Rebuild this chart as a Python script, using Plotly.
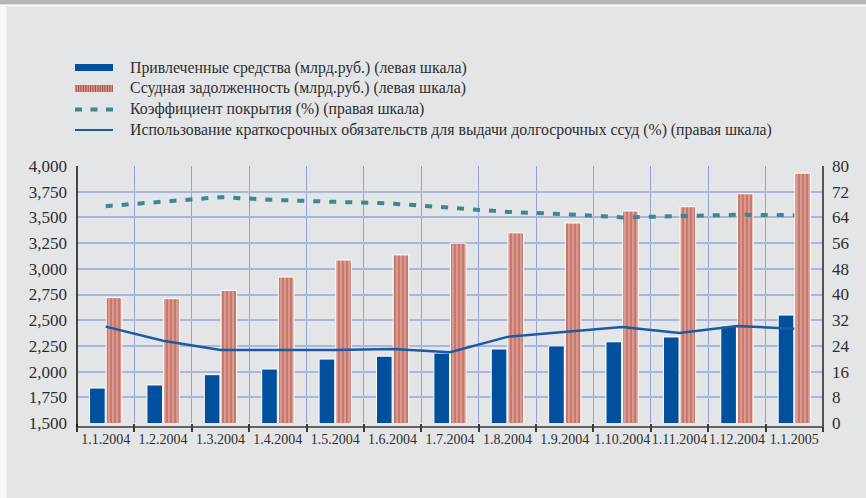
import plotly.graph_objects as go

dates = ["1.1.2004", "1.2.2004", "1.3.2004", "1.4.2004", "1.5.2004", "1.6.2004", "1.7.2004",
         "1.8.2004", "1.9.2004", "1.10.2004", "1.11.2004", "1.12.2004", "1.1.2005"]
attracted = [1840, 1870, 1970, 2025, 2122, 2150, 2180, 2220, 2250, 2290, 2337, 2443, 2550]
loans = [2720, 2710, 2790, 2920, 3085, 3135, 3250, 3350, 3445, 3562, 3604, 3730, 3930]
coverage = [67.5, 68.8, 70.3, 69.4, 68.7, 68.3, 67.0, 65.7, 65.0, 64.0, 64.4, 64.8, 64.7]
usage = [30.0, 25.6, 22.7, 22.7, 22.7, 23.0, 22.0, 26.8, 28.3, 29.9, 28.0, 30.2, 29.3]

left_ticks = list(range(1500, 4001, 250))
right_ticks = list(range(0, 81, 8))

legend_labels = [
    "Привлеченные средства (млрд.руб.) (левая шкала)",
    "Ссудная задолженность (млрд.руб.) (левая шкала)",
    "Коэффициент покрытия (%) (правая шкала)",
    "Использование краткосрочных обязательств для выдачи долгосрочных ссуд (%) (правая шкала)",
]

W, H = 866, 498
L, R, T, B = 77, 823, 166, 423
PW, PH = R - L, B - T

def px(x):
    return (x - L) / PW

def py(y):
    return (B - y) / PH

BLUE = "#00509E"
SALMON = "#D99A8E"
DARKRED = "#A3332B"
TEAL = "#3E8595"
LINEBLUE = "#1A5BA4"
BG = "#E4E5E7"
TXT = "#2E2E2E"
FONT = "Liberation Serif, Times New Roman, DejaVu Serif, serif"

fig = go.Figure()
fig.add_trace(go.Bar(x=dates, y=attracted, marker=dict(color=BLUE, line=dict(color="white", width=1)),
                     showlegend=False, yaxis="y"))
fig.add_trace(go.Bar(x=dates, y=loans,
                     marker=dict(color=SALMON, line=dict(color="white", width=1),
                                 pattern=dict(shape="|", fgcolor=DARKRED, bgcolor=SALMON, size=4, solidity=0.33)),
                     showlegend=False, yaxis="y"))
fig.add_trace(go.Scatter(x=dates, y=coverage, mode="lines", line=dict(color=TEAL, width=4, dash="7px,9px"),
                         showlegend=False, yaxis="y2"))
fig.add_trace(go.Scatter(x=dates, y=usage, mode="lines", line=dict(color=LINEBLUE, width=2.5),
                         showlegend=False, yaxis="y2"))

shapes = []
annotations = []
# top band
shapes.append(dict(type="rect", xref="paper", yref="paper", x0=px(0), x1=px(W), y0=py(0), y1=py(4.5),
                   fillcolor="#B4B5B7", line=dict(width=0), layer="below"))
shapes.append(dict(type="rect", xref="paper", yref="paper", x0=px(0), x1=px(W), y0=py(4.5), y1=py(6.5),
                   fillcolor="#F7F7F7", line=dict(width=0), layer="below"))
shapes.append(dict(type="rect", xref="paper", yref="paper", x0=px(0), x1=px(6.5), y0=py(6.5), y1=py(H),
                   fillcolor="#F7F7F7", line=dict(width=0), layer="below"))

# legend
rows = [67.5, 88.5, 109.5, 130]
sx0, sx1 = 75, 113
shapes.append(dict(type="rect", xref="paper", yref="paper", x0=px(sx0), x1=px(sx1), y0=py(rows[0] - 3.5),
                   y1=py(rows[0] + 3.5), fillcolor=BLUE, line=dict(width=0)))
shapes.append(dict(type="rect", xref="paper", yref="paper", x0=px(sx0), x1=px(sx1), y0=py(rows[1] - 3.5),
                   y1=py(rows[1] + 3.5), fillcolor=SALMON, line=dict(width=0)))
xs = sx0 + 1.2
while xs < sx1:
    shapes.append(dict(type="line", xref="paper", yref="paper", x0=px(xs), x1=px(xs), y0=py(rows[1] - 3.5),
                       y1=py(rows[1] + 3.5), line=dict(color=DARKRED, width=0.8)))
    xs += 2.4
for d in range(3):
    a = sx0 + d * 15.5
    shapes.append(dict(type="line", xref="paper", yref="paper", x0=px(a), x1=px(a + 7), y0=py(rows[2]),
                       y1=py(rows[2]), line=dict(color=TEAL, width=4)))
shapes.append(dict(type="line", xref="paper", yref="paper", x0=px(sx0), x1=px(sx1), y0=py(rows[3]),
                   y1=py(rows[3]), line=dict(color=LINEBLUE, width=2)))
for lab, r in zip(legend_labels, rows):
    annotations.append(dict(text=lab, xref="paper", yref="paper", x=px(128), y=py(r), xanchor="left",
                            yanchor="middle", showarrow=False, font=dict(family=FONT, size=15.8, color=TXT)))

# axis lines
shapes.append(dict(type="line", xref="paper", yref="paper", x0=px(L), x1=px(R), y0=py(427), y1=py(427),
                   line=dict(color="#3A3A3A", width=1.5)))
shapes.append(dict(type="line", xref="paper", yref="paper", x0=px(L), x1=px(L), y0=py(T), y1=py(427),
                   line=dict(color="#111111", width=1.5)))
shapes.append(dict(type="line", xref="paper", yref="paper", x0=px(R), x1=px(R), y0=py(T), y1=py(427),
                   line=dict(color="#555555", width=2)))

fig.update_layout(
    width=W, height=H,
    margin=dict(l=L, r=W - R, t=T, b=H - B, autoexpand=False),
    paper_bgcolor=BG, plot_bgcolor=BG,
    barmode="group", bargap=0.42, bargroupgap=0.06,
    font=dict(family=FONT, color=TXT),
    xaxis=dict(type="category", tickson="boundaries", showgrid=True, gridcolor="#95A3D8", gridwidth=1,
               ticks="outside", ticklen=8, tickcolor="#3A3A3A", tickwidth=1.5, tickangle=0,
               ticklabelstandoff=6,
               tickfont=dict(family=FONT, size=14, color=TXT), showline=False, zeroline=False),
    yaxis=dict(range=[1500, 4000], tickvals=left_ticks, tickformat=",", showgrid=True,
               gridcolor="#A9B6DE", gridwidth=2, tickfont=dict(family=FONT, size=17, color=TXT),
               ticks="", ticklabelstandoff=9, zeroline=False, showline=False),
    yaxis2=dict(range=[0, 80], tickvals=right_ticks, overlaying="y", side="right", showgrid=False,
                tickfont=dict(family=FONT, size=17, color=TXT), ticks="", ticklabelstandoff=8,
                zeroline=False, showline=False),
    shapes=shapes, annotations=annotations,
)

fig.write_html("out.html", config={"displayModeBar": False},
               post_script="document.body.style.margin='0';document.body.style.padding='0';")
